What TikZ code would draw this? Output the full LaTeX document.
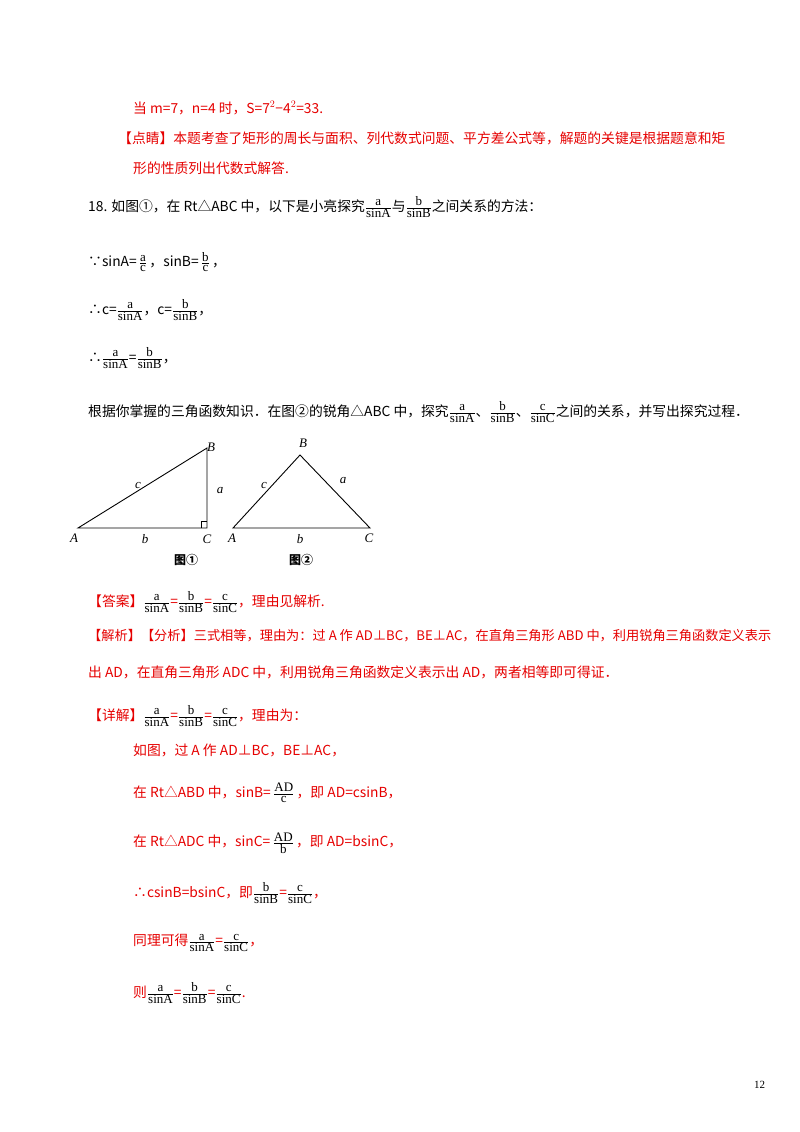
\documentclass[tikz,border=0pt]{standalone}
\usepackage{amsmath}
\usepackage{fontspec}
\setmainfont{Liberation Serif}
\newfontfamily\cjk{Noto Sans CJK SC}
\definecolor{rd}{RGB}{230,0,0}
\newcommand\fr[2]{\ensuremath{\genfrac{}{}{0.5pt}{}{\text{\rmfamily\fontsize{13}{13}\selectfont #1}}{\text{\rmfamily\fontsize{13}{13}\selectfont #2}}}}
\tikzset{ln/.style={anchor=west,inner sep=0pt,font=\fontsize{13.8}{16}\selectfont\cjk},
 lb/.style={inner sep=0pt,font=\fontsize{13}{13}\selectfont\itshape},
 tri/.style={line width=0.9pt}}
\begin{document}
\begin{tikzpicture}[x=1pt,y=-1pt]
\useasboundingbox[fill=white] (0,0) rectangle (800,1132);
\node[ln,rd] (l1) at (133,108) {当 m=7，n=4 时，S=7$^2$−4$^2$=33.};
\node[ln,rd] (l2) at (118,138) {【点睛】本题考查了矩形的周长与面积、列代数式问题、平方差公式等，解题的关键是根据题意和矩};
\node[ln,rd] (l3) at (133,168) {形的性质列出代数式解答.};
\node[ln] (l4) at (88,207) {18. 如图①，在 Rt△ABC 中，以下是小亮探究\fr{a}{sinA}与\fr{b}{sinB}之间关系的方法：};
\node[ln] (l5) at (88,262) {∵sinA=\,\fr{a}{c}\,，sinB=\,\fr{b}{c}\,，};
\node[ln] (l6) at (88,310) {∴c=\fr{a}{sinA}，c=\fr{b}{sinB}，};
\node[ln] (l7) at (88,358) {∴\fr{a}{sinA}=\fr{b}{sinB}，};
\node[ln] (l8) at (88,412) {根据你掌握的三角函数知识．在图②的锐角△ABC 中，探究\fr{a}{sinA}、\fr{b}{sinB}、\fr{c}{sinC}之间的关系，并写出探究过程．};
% figure 1
\coordinate (A1) at (78,528); \coordinate (C1) at (207,528); \coordinate (B1) at (207,448);
\draw[tri] (A1) -- (C1) -- (B1) -- cycle;
\draw[line width=0.8pt] (201,528) -- (201,521) -- (207,521);
\node[lb] (tB1) at (211,447) {B};
\node[lb] (tc1) at (138,485) {c};
\node[lb] (ta1) at (220,491) {a};
\node[lb] (tb1) at (145,539) {b};
\node[lb] (tA1) at (74,538) {A};
\node[lb] (tC1) at (207,539) {C};
\node[ln,anchor=center,font=\fontsize{12}{12}\selectfont\cjk\bfseries] (f1) at (186,560) {图①};
% figure 2
\coordinate (A2) at (233,528); \coordinate (C2) at (370,528); \coordinate (B2) at (300,455);
\draw[tri] (A2) -- (C2) -- (B2) -- cycle;
\node[lb] (tB2) at (303,443) {B};
\node[lb] (tc2) at (264,485) {c};
\node[lb] (ta2) at (343,481) {a};
\node[lb] (tb2) at (300,539) {b};
\node[lb] (tA2) at (232,538) {A};
\node[lb] (tC2) at (369,538) {C};
\node[ln,anchor=center,font=\fontsize{12}{12}\selectfont\cjk\bfseries] (f2) at (301,560) {图②};
\node[ln] (l9) at (88,602) {\textcolor{rd}{【答案】}\fr{a}{sinA}\textcolor{rd}{=}\fr{b}{sinB}\textcolor{rd}{=}\fr{c}{sinC}\textcolor{rd}{，理由见解析.}};
\node[ln,rd,font=\fontsize{13.2}{16}\selectfont\cjk] (l10) at (88,636) {【解析】【分析】三式相等，理由为：过 A 作 AD⊥BC，BE⊥AC，在直角三角形 ABD 中，利用锐角三角函数定义表示};
\node[ln,rd] (l11) at (88,672) {出 AD，在直角三角形 ADC 中，利用锐角三角函数定义表示出 AD，两者相等即可得证．};
\node[ln] (l12) at (88,716) {\textcolor{rd}{【详解】}\fr{a}{sinA}\textcolor{rd}{=}\fr{b}{sinB}\textcolor{rd}{=}\fr{c}{sinC}\textcolor{rd}{，理由为：}};
\node[ln,rd] (l13) at (133,750) {如图，过 A 作 AD⊥BC，BE⊥AC，};
\node[ln,rd] (l14) at (133,793) {在 Rt△ABD 中，sinB=\,\textcolor{black}{\fr{AD}{c}}\,，即 AD=csinB，};
\node[ln,rd] (l15) at (133,843) {在 Rt△ADC 中，sinC=\,\textcolor{black}{\fr{AD}{b}}\,，即 AD=bsinC，};
\node[ln,rd] (l16) at (133,893) {∴csinB=bsinC，即\textcolor{black}{\fr{b}{sinB}}=\textcolor{black}{\fr{c}{sinC}}，};
\node[ln,rd] (l17) at (133,943) {同理可得\textcolor{black}{\fr{a}{sinA}}=\textcolor{black}{\fr{c}{sinC}}，};
\node[ln,rd] (l18) at (133,993) {则\textcolor{black}{\fr{a}{sinA}}=\textcolor{black}{\fr{b}{sinB}}=\textcolor{black}{\fr{c}{sinC}}.};
\node[ln,font=\fontsize{11}{11}\selectfont] (pg) at (754,1085) {12};
\end{tikzpicture}
\end{document}
